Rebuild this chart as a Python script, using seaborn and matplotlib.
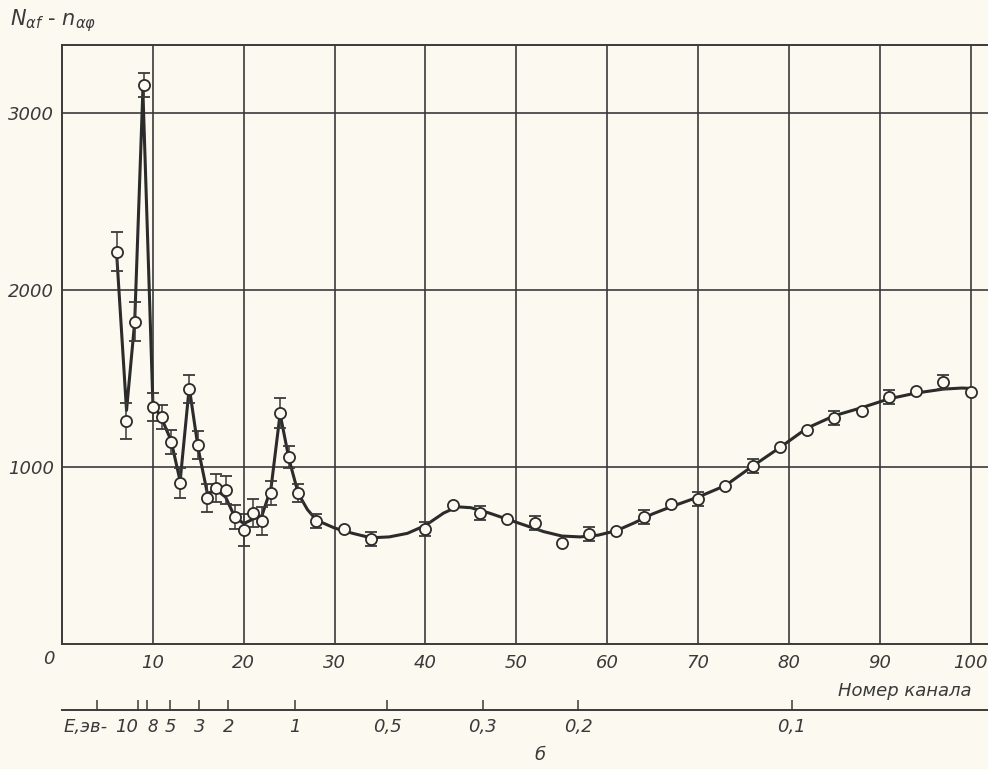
import numpy as np
import pandas as pd
import seaborn as sns
import matplotlib.pyplot as plt

# measured points (channel number, counts, error)
channels = [6, 7, 8, 9, 10, 11, 12, 13, 14, 15, 16, 17, 18, 19, 20, 21, 22, 23,
            24, 25, 26, 28, 31, 34, 40, 43, 46, 49, 52, 55, 58, 61, 64, 67, 70,
            73, 76, 79, 82, 85, 88, 91, 94, 97, 100]
counts = [2215, 1260, 1820, 3158, 1339, 1282, 1141, 910, 1441, 1124, 825, 881,
          870, 718, 644, 740, 695, 853, 1305, 1056, 853, 695, 650, 593, 650,
          785, 740, 706, 684, 571, 621, 638, 718, 791, 819, 893, 1006, 1113,
          1209, 1277, 1316, 1395, 1429, 1480, 1424]
errors = [110, 100, 110, 70, 80, 70, 70, 85, 80, 80, 80, 80, 80, 70, 90, 80,
          80, 70, 85, 60, 50, 40, 0, 40, 40, 0, 40, 0, 40, 0, 40, 0, 40, 0, 40,
          0, 40, 0, 0, 40, 0, 40, 0, 40, 0]

# drawn curve
curve_x = [6, 7.1, 8, 8.9, 10, 11, 12, 13, 14, 15, 16, 17, 18, 19, 20, 21, 22,
           23, 24, 25, 26, 27, 28, 30, 32, 34, 36, 38, 40, 42, 43.5, 45, 47, 49,
           51, 53, 55, 57, 59, 61, 63, 65, 67, 70, 73, 76, 79, 82, 85, 88, 91,
           94, 97, 99, 100]
curve_y = [2215, 1320, 1820, 3130, 1360, 1270, 1150, 920, 1450, 1100, 850, 870,
           830, 720, 680, 705, 725, 880, 1300, 1040, 850, 760, 700, 655, 625,
           600, 605, 625, 670, 740, 775, 770, 740, 705, 670, 635, 610, 605, 615,
           640, 685, 735, 775, 830, 895, 1005, 1110, 1220, 1290, 1335, 1385,
           1418, 1440, 1446, 1444]

# energy scale (channel position of each energy mark)
energy_pos = [3.85, 8.4, 9.35, 11.9, 15.1, 18.3, 25.6, 35.8, 46.3, 56.8, 80.3]
energy_labels = ["", "10", "8", "5", "3", "2", "1", "0,5", "0,3", "0,2", "0,1"]

x_ticks = [10, 20, 30, 40, 50, 60, 70, 80, 90, 100]
y_ticks = [1000, 2000, 3000]

ink = "#3a3a3a"
paper = "#fcfaf0"

sns.set_theme(style="white")
plt.rcParams["font.family"] = ["DejaVu Sans"]

fig = plt.figure(figsize=(9.88, 7.69), dpi=100, facecolor=paper)
ax = fig.add_axes([62 / 988, 125 / 769, 1 - 62 / 988, 599 / 769])
ax.set_facecolor(paper)

df = pd.DataFrame({"ch": channels, "n": counts, "err": errors})
curve = pd.DataFrame({"x": curve_x, "y": curve_y})

sns.lineplot(data=curve, x="x", y="y", sort=False, color="#2b2b2b",
             linewidth=2.2, ax=ax, zorder=3)

has_err = df[df["err"] > 0]
ax.errorbar(has_err["ch"], has_err["n"], yerr=has_err["err"], fmt="none",
            ecolor=ink, elinewidth=1.1, capsize=4, capthick=1.3, zorder=4)
sns.scatterplot(data=df, x="ch", y="n", marker="o", s=64, facecolor=paper,
                edgecolor="#2b2b2b", linewidth=1.3, ax=ax, zorder=5)

ax.set_xlim(0, 101.9)
ax.set_ylim(0, 3384)
ax.set_xticks(x_ticks)
ax.set_yticks(y_ticks)
ax.grid(True, color=ink, linewidth=1.2)
ax.tick_params(length=0, pad=7, labelcolor=ink, labelsize=13)
ax.tick_params(axis="y", pad=6)
for lab in ax.get_xticklabels() + ax.get_yticklabels():
    lab.set_fontstyle("italic")
ax.set_xlabel("")
ax.set_ylabel("")
for side in ["left", "bottom", "top"]:
    ax.spines[side].set_color(ink)
    ax.spines[side].set_linewidth(1.4)
ax.spines["right"].set_visible(False)

# origin label
ax.text(-1.5, -85, "0", ha="center", va="center", fontsize=13,
        fontstyle="italic", color=ink)

# energy axis below
sec = ax.secondary_xaxis(-0.11)
sec.set_xticks(energy_pos, labels=energy_labels)
sec.tick_params(direction="in", length=7, width=1.1, color=ink, pad=6,
                labelsize=13, labelcolor=ink)
for lab in sec.get_xticklabels():
    lab.set_fontstyle("italic")
    if lab.get_text() == "10":
        lab.set_horizontalalignment("right")
    elif lab.get_text() == "8":
        lab.set_horizontalalignment("left")
        lab.set_fontsize(12)
sec.spines["bottom"].set_color(ink)
sec.spines["bottom"].set_linewidth(1.4)

fig.text(64 / 988, 1 - 727 / 769, "E,эв-", ha="left", va="center",
         fontsize=13, fontstyle="italic", color=ink)
fig.text(905 / 988, 1 - 691 / 769, "Номер канала", ha="center", va="center",
         fontsize=13, fontstyle="italic", color=ink)
fig.text(540 / 988, 1 - 755 / 769, "б", ha="center", va="center",
         fontsize=13, fontstyle="italic", color=ink)
fig.text(10 / 988, 1 - 21 / 769, r"$N_{\alpha f}$ - $n_{\alpha\varphi}$",
         ha="left", va="center", fontsize=15, color=ink)

fig.savefig("out.png", dpi=100, facecolor=paper)
